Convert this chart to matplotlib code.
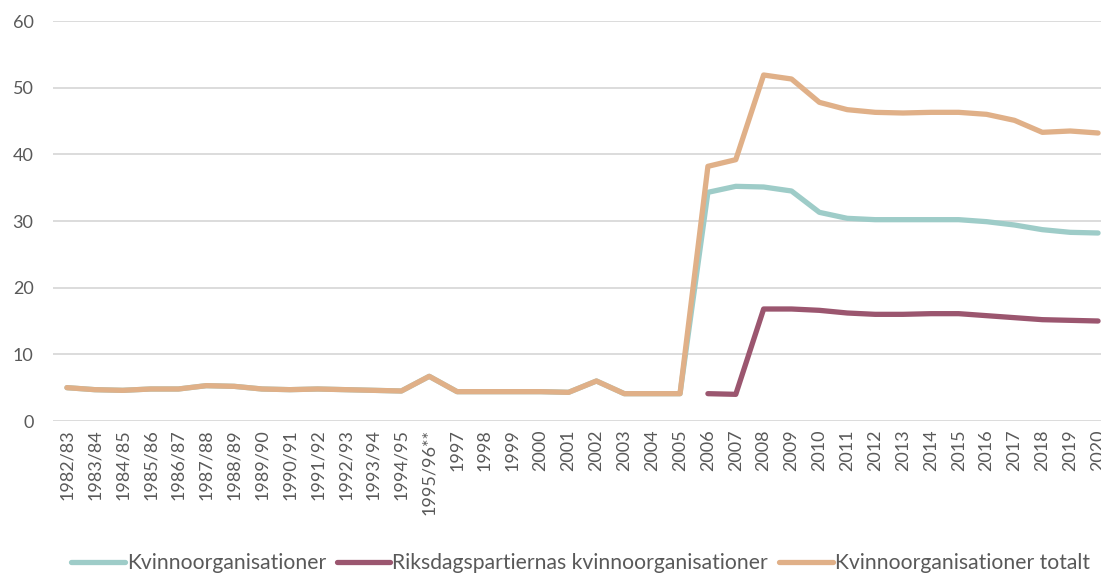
import matplotlib.pyplot as plt
import numpy as np

plt.rcParams['font.family'] = ["Lato", "DejaVu Sans"]
plt.rcParams['font.size'] = 12

years = ["1982/83", "1983/84", "1984/85", "1985/86", "1986/87", "1987/88",
         "1988/89", "1989/90", "1990/91", "1991/92", "1992/93", "1993/94",
         "1994/95", "1995/96**", "1997", "1998", "1999", "2000", "2001",
         "2002", "2003", "2004", "2005", "2006", "2007", "2008", "2009",
         "2010", "2011", "2012", "2013", "2014", "2015", "2016", "2017",
         "2018", "2019", "2020"]

early = [5.0, 4.7, 4.6, 4.8, 4.8, 5.3, 5.2, 4.8, 4.7, 4.8, 4.7, 4.6, 4.5,
         6.7, 4.4, 4.4, 4.4, 4.4, 4.3, 6.0, 4.1, 4.1, 4.1]

kvinno = early + [34.3, 35.2, 35.1, 34.5, 31.3, 30.4, 30.2, 30.2, 30.2,
                  30.2, 29.9, 29.4, 28.7, 28.3, 28.2]
riksdag = [None] * 23 + [4.1, 4.0, 16.8, 16.8, 16.6, 16.2, 16.0, 16.0,
                         16.1, 16.1, 15.8, 15.5, 15.2, 15.1, 15.0]
totalt = early + [38.2, 39.2, 51.9, 51.3, 47.8, 46.7, 46.3, 46.2, 46.3,
                  46.3, 46.0, 45.1, 43.3, 43.5, 43.2]

fig = plt.figure(figsize=(11.01, 5.73), dpi=100)
ax = fig.add_axes([53 / 1101, 1 - 421 / 573, 1059 / 1101, 400 / 573])

x = np.arange(len(years))
r = np.array([np.nan if v is None else v for v in riksdag], dtype=float)
lw = 3.8
ax.plot(x, kvinno, color="#9ECCC8", lw=lw, label="Kvinnoorganisationer",
        solid_capstyle="round", solid_joinstyle="round")
ax.plot(x, r, color="#9B566F", lw=lw,
        label="Riksdagspartiernas kvinnoorganisationer",
        solid_capstyle="round", solid_joinstyle="round")
ax.plot(x, totalt, color="#E0B088", lw=lw,
        label="Kvinnoorganisationer totalt",
        solid_capstyle="round", solid_joinstyle="round")

ax.set_xlim(-0.5, len(years) - 0.5)
ax.set_ylim(0, 60)
ax.set_yticks(range(0, 61, 10))
ax.set_xticks(x)
ax.set_xticklabels(years, rotation=90)
ax.tick_params(axis="both", length=0, colors="#595959", labelsize=13)
ax.tick_params(axis="y", pad=14)
ax.tick_params(axis="x", pad=6)
ax.grid(axis="y", color="#D9D9D9", lw=1.3)
ax.set_axisbelow(True)
for s in ax.spines.values():
    s.set_visible(False)

leg = fig.legend(loc="center", bbox_to_anchor=(0.527, 1 - 563 / 573), ncol=3,
                 frameon=False, handlelength=2.55, handletextpad=0.1,
                 columnspacing=0.5, fontsize=15.2)
for t in leg.get_texts():
    t.set_color("#595959")

fig.savefig("out.png", dpi=100)
